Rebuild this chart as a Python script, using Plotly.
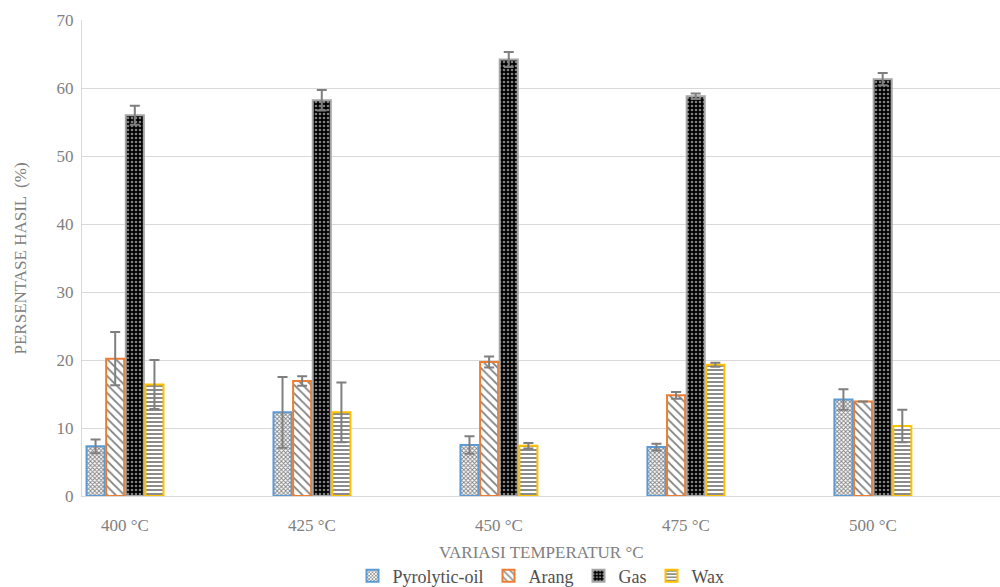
import plotly.graph_objects as go

# Product yield per pyrolysis temperature (percent) with standard deviations
temperatures = ["400 °C", "425 °C", "450 °C", "475 °C", "500 °C"]

pyrolytic_oil = [7.3, 12.3, 7.5, 7.2, 14.2]
pyrolytic_oil_err = [1.0, 5.2, 1.3, 0.5, 1.5]

arang = [20.2, 16.9, 19.7, 14.8, 13.9]
arang_err = [3.9, 0.7, 0.8, 0.5, 0.0]

gas = [56.0, 58.2, 64.2, 58.8, 61.3]
gas_err = [1.4, 1.5, 1.1, 0.4, 0.9]

wax = [16.4, 12.3, 7.4, 19.3, 10.3]
wax_err = [3.6, 4.4, 0.4, 0.3, 2.4]

series = [
    ("Pyrolytic-oil", pyrolytic_oil, pyrolytic_oil_err,
     dict(shape="x", fgcolor="#000000", bgcolor="#ffffff", size=3, solidity=0.5), "#5b9bd5"),
    ("Arang", arang, arang_err,
     dict(shape="\\", fgcolor="#000000", bgcolor="#ffffff", size=6, solidity=0.3), "#ed7d31"),
    ("Gas", gas, gas_err,
     dict(shape=".", fgcolor="#ffffff", bgcolor="#000000", size=4, solidity=0.35), "#a5a5a5"),
    ("Wax", wax, wax_err,
     dict(shape="-", fgcolor="#000000", bgcolor="#ffffff", size=4, solidity=0.45), "#ffc000"),
]

fig = go.Figure()
for name, vals, errs, pattern, edge in series:
    fig.add_trace(go.Bar(
        name=name,
        x=temperatures,
        y=vals,
        marker=dict(color="#ffffff", pattern=pattern, line=dict(color=edge, width=2)),
        error_y=dict(type="data", array=errs, visible=True,
                     color="#7f7f7f", thickness=2, width=5),
    ))

serif = "Liberation Serif"
tick_grey = "#808080"
legend_grey = "#505050"

fig.update_layout(
    width=1000,
    height=587,
    margin=dict(l=82, r=0, t=20, b=91, autoexpand=False),
    paper_bgcolor="#ffffff",
    plot_bgcolor="#ffffff",
    barmode="group",
    bargap=0.58,
    bargroupgap=0.08,
    font=dict(family=serif, size=17, color=tick_grey),
    showlegend=True,
    legend=dict(
        orientation="h",
        x=0.5, xanchor="center",
        yref="paper",
        y=-0.168, yanchor="middle",
        font=dict(family=serif, size=18, color=legend_grey),
        itemwidth=30,
        tracegroupgap=0,
        bgcolor="rgba(0,0,0,0)",
    ),
    xaxis=dict(
        type="category",
        range=[-0.23, 4.68],
        automargin=False,
        showgrid=False,
        showline=True,
        linecolor="#d9d9d9",
        linewidth=1,
        ticks="",
        ticklabelstandoff=14,
        tickfont=dict(family=serif, size=17, color=tick_grey),
    ),
    yaxis=dict(
        range=[0, 70],
        dtick=10,
        automargin=False,
        showgrid=True,
        gridcolor="#d9d9d9",
        gridwidth=1,
        showline=True,
        linecolor="#d9d9d9",
        zeroline=False,
        ticks="",
        ticklabelstandoff=4,
        tickfont=dict(family=serif, size=17, color=tick_grey),
    ),
    annotations=[
        dict(text="VARIASI TEMPERATUR °C", xref="paper", yref="paper",
             x=0.5, y=-0.118, xanchor="center", yanchor="middle", showarrow=False,
             font=dict(family=serif, size=17, color=tick_grey)),
        dict(text="PERSENTASE HASIL  (%)", xref="paper", yref="paper",
             x=-0.067, y=0.5, xanchor="center", yanchor="middle", showarrow=False,
             textangle=-90,
             font=dict(family=serif, size=17, color=tick_grey)),
    ],
)

fig.write_html("out.html")
